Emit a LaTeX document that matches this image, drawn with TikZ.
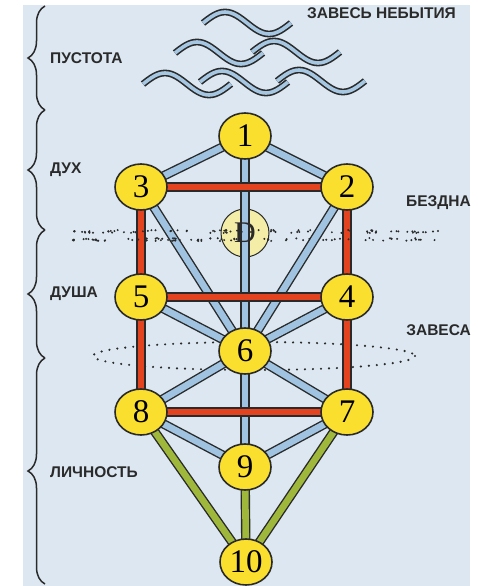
\documentclass[tikz,border=0pt]{standalone}
\usepackage{fontspec}
\setmainfont{Liberation Serif}
\newfontfamily\labelfont{Liberation Sans}
\usetikzlibrary{shapes.geometric,decorations.pathreplacing}
\pgfdeclarelayer{background}
\pgfsetlayers{background,main}

\definecolor{panel}{HTML}{DCE7F1}
\definecolor{sephyellow}{HTML}{FBDF2E}
\definecolor{daathyellow}{HTML}{F4EDA8}
\definecolor{ink}{HTML}{2A2A2A}
\definecolor{pathblue}{HTML}{9FC3E0}
\definecolor{pathred}{HTML}{E4431F}
\definecolor{pathgreen}{HTML}{9FB83C}
\definecolor{waveblue}{HTML}{A6C7E2}

\tikzset{
  sephira/.style={ellipse, draw=ink, line width=1.6pt, fill=sephyellow,
    minimum width=52pt, minimum height=46pt, inner sep=0pt,
    font=\fontsize{33}{33}\selectfont},
  daath/.style={circle, draw=ink, line width=1pt, fill=daathyellow,
    minimum size=48pt, inner sep=0pt},
  channel/.style={line width=1.4pt, draw=ink, double distance=6.6pt,
    shorten <=-3pt, shorten >=-3pt},
  bluepath/.style={channel, double=pathblue},
  redpath/.style={channel, double=pathred},
  greenpath/.style={channel, double=pathgreen},
  level/.style={font=\labelfont\bfseries\fontsize{15.5}{15.5}\selectfont,
    inner sep=0pt, text=ink},
  realm/.style={decorate, decoration={brace, amplitude=17pt},
    line width=1.5pt, draw=ink},
  wavy/.style={line width=1.6pt, draw=ink, double=waveblue,
    double distance=3.6pt},
  veil/.style={draw=ink, line width=2.4pt, line cap=round,
    dash pattern=on 0pt off 8pt}
}

\begin{document}
\begin{tikzpicture}[x=1pt,y=-1pt]
\useasboundingbox (0,0) rectangle (478,586);

% Sephirot
\node[sephira] (s1) at (245,136) {1};
\node[sephira] (s2) at (347,187) {2};
\node[sephira] (s3) at (141,187) {3};
\node[sephira] (s4) at (347,297) {4};
\node[sephira] (s5) at (141,297) {5};
\node[sephira] (s6) at (245,351) {6};
\node[sephira] (s7) at (347,412) {7};
\node[sephira] (s8) at (141,412) {8};
\node[sephira] (s9) at (245,467) {9};
\node[sephira] (s10) at (246,562) {10};

\begin{pgfonlayer}{background}
\fill[white] (0,0) rectangle (478,586);
\fill[panel] (23,5) rectangle (470,586);
% Veil
\draw[veil] (254,356) ellipse (161 and 14);
% Daath
\node[daath] (d) at (245,233) {};
% Paths
\foreach \a/\b in {s1/s3, s1/s2, s1/s6, s3/s6, s2/s6, s5/s6, s4/s6,
                   s6/s8, s6/s7, s6/s9, s8/s9, s7/s9} {
    \draw[bluepath] (\a) -- (\b);
}
\foreach \a/\b in {s3/s2, s3/s5, s2/s4, s5/s4, s5/s8, s4/s7, s8/s7} {
    \draw[redpath] (\a) -- (\b);
}
\foreach \a/\b in {s8/s10, s9/s10, s7/s10} {
    \draw[greenpath] (\a) -- (\b);
}
\end{pgfonlayer}

% Abyss
\pgfmathsetseed{23}
\foreach \i in {1,...,85} {
    \pgfmathsetmacro{\xa}{70+rnd*370}
    \pgfmathsetmacro{\ya}{230+rnd*3}
    \pgfmathsetmacro{\xb}{70+rnd*370}
    \pgfmathsetmacro{\yb}{238+rnd*3}
    \fill[ink] (\xa,\ya) circle (1.1);
    \fill[ink] (\xb,\yb) circle (1.1);
}
\node[font=\fontsize{30}{30}\selectfont, inner sep=0pt, text=ink] (dlabel) at (d) {D};

% Waves of non-being
\foreach \x/\y in {203/23, 175/53, 252/52, 143/84, 200/82, 277/81} {
    \draw[wavy] (\x,\y) sin ++(22,-11) cos ++(22,11) sin ++(22,11) cos ++(22,-11);
}

% Levels
\draw[realm] (45,110) -- (45,6);
\draw[realm] (45,230) -- (45,110);
\draw[realm] (45,358) -- (45,230);
\draw[realm] (45,584) -- (45,358);
\node[level, anchor=west] (void) at (50,58) {ПУСТОТА};
\node[level, anchor=west] (spirit) at (50,170) {ДУХ};
\node[level, anchor=west] (soul) at (50,294) {ДУША};
\node[level, anchor=west] (person) at (50,472) {ЛИЧНОСТЬ};

% Veils
\node[level, anchor=east] (nonbeing) at (456,13) {ЗАВЕСЬ НЕБЫТИЯ};
\node[level, anchor=east] (abyss) at (471,203) {БЕЗДНА};
\node[level, anchor=east] (veiltext) at (471,330) {ЗАВЕСА};

\end{tikzpicture}
\end{document}
